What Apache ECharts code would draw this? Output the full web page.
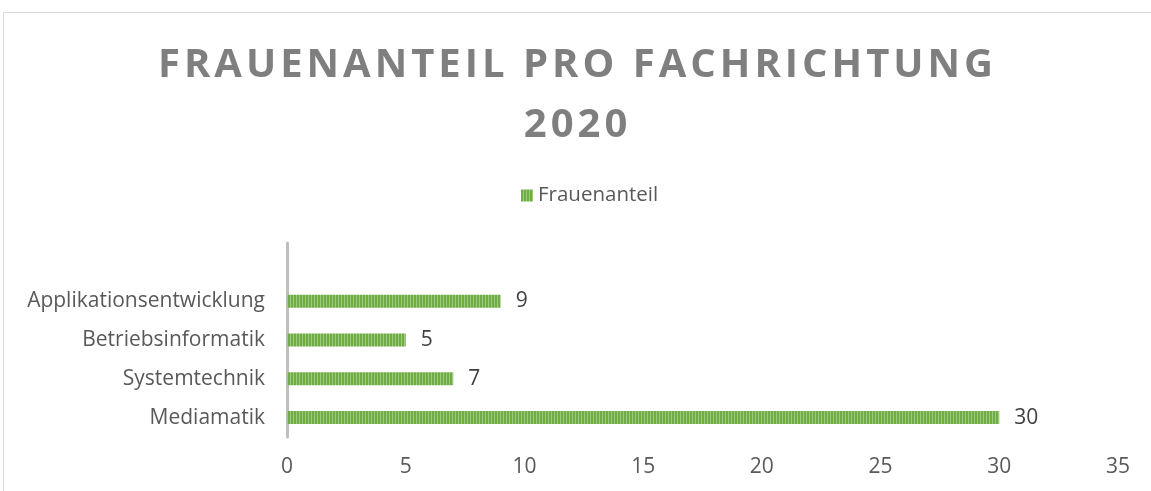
<!DOCTYPE html>
<html><head><meta charset="utf-8">
<script src="https://cdn.jsdelivr.net/npm/echarts@6/dist/echarts.min.js"></script>
<style>html,body{margin:0;padding:0;background:#fff}#c{width:1151px;height:491px}</style>
</head><body><div id="c"></div>
<script>
const categories = ['Mediamatik', 'Systemtechnik', 'Betriebsinformatik', 'Applikationsentwicklung'];
const values = [30, 7, 5, 9];
const xTicks = [0, 5, 10, 15, 20, 25, 30, 35];
const seriesName = 'Frauenanteil';
const titleLines = ['FRAUENANTEIL PRO FACHRICHTUNG', '2020'];

function spaced(s) { return s.split('').join('\u200A'); }

const pc = document.createElement('canvas');
pc.width = 3; pc.height = 4;
const g = pc.getContext('2d');
g.fillStyle = '#9ccb7c'; g.fillRect(0, 0, 3, 4);
g.fillStyle = '#6fac46'; g.fillRect(0, 0, 2, 4);
const pattern = { image: pc, repeat: 'repeat' };

const chart = echarts.init(document.getElementById('c'));
chart.setOption({
  animation: false,
  title: {
    text: titleLines.map(spaced).join('\n'),
    left: 'center', top: 31,
    textStyle: { fontFamily: 'Open Sans', fontWeight: 'bold', fontSize: 40, color: '#7f7f7f', lineHeight: 60 }
  },
  legend: {
    data: [seriesName], top: 180, left: 516,
    icon: 'rect', itemWidth: 12, itemHeight: 12, itemGap: 5,
    textStyle: { fontFamily: 'Open Sans', fontSize: 20.5, color: '#595959' }
  },
  graphic: [{ type: 'rect', shape: { x: 3.5, y: 12.5, width: 1200, height: 600 }, style: { fill: 'none', stroke: '#d9d9d9', lineWidth: 1 }, silent: true }],
  grid: { left: 287, right: 33, top: 243, bottom: 54, containLabel: false },
  xAxis: {
    type: 'value', min: 0, max: 35, interval: 5,
    axisLine: { show: false }, axisTick: { show: false }, splitLine: { show: false },
    axisLabel: { fontFamily: 'Open Sans', fontSize: 21, color: '#595959', margin: 20,
      formatter: v => xTicks.includes(v) ? String(v) : '' }
  },
  yAxis: {
    type: 'category', data: categories, max: 4,
    axisLine: { show: true, lineStyle: { color: '#bfbfbf', width: 3 } },
    axisTick: { show: false },
    axisLabel: { fontFamily: 'Open Sans', fontSize: 21, color: '#595959', margin: 22,
      formatter: v => (v === undefined || v === 'undefined') ? '' : v }
  },
  series: [{
    name: seriesName, type: 'bar', data: values, barWidth: 13,
    itemStyle: { color: pattern },
    label: { show: true, position: 'right', distance: 15, fontFamily: 'Open Sans', fontSize: 21, color: '#404040' }
  }]
});
</script></body></html>
